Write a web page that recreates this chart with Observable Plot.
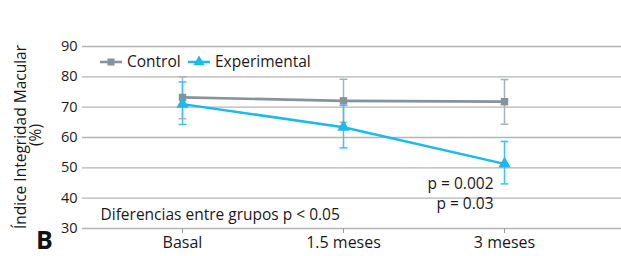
<!DOCTYPE html>
<html><head><meta charset="utf-8">
<script src="https://cdn.jsdelivr.net/npm/d3@7"></script>
<script src="https://cdn.jsdelivr.net/npm/@observablehq/plot@0.6"></script>
<style>
body{margin:0;background:#fff;}
#chart{position:relative;width:621px;height:256px;font-family:"Open Sans",sans-serif;}
</style>
</head><body><div id="chart"></div>
<script>
const categories = ["Basal", "1.5 meses", "3 meses"];
const controlMean = [73.2, 72.1, 71.8];
const controlLow  = [66.2, 65.0, 64.4];
const controlHigh = [80.0, 79.2, 79.1];
const expMean = [71.0, 63.4, 51.3];
const expLow  = [64.3, 56.6, 44.7];
const expHigh = [78.3, 70.6, 58.7];
const yTicks = [30, 40, 50, 60, 70, 80, 90];
const seriesNames = ["Control", "Experimental"];
const pLabels = ["p = 0.002", "p = 0.03"];
const pValuesY = [44.8, 38.0];
const noteText = "Diferencias entre grupos p < 0.05";
const noteY = 34.5;

const colors = {Control: "#86939c", Experimental: "#1bb9ec"};
const errColors = {Control: "#a3b3bb", Experimental: "#3cc3ee"};

const rows = [];
categories.forEach((c, i) => {
  rows.push({cat: c, series: "Control", mean: controlMean[i], lo: controlLow[i], hi: controlHigh[i]});
});
categories.forEach((c, i) => {
  rows.push({cat: c, series: "Experimental", mean: expMean[i], lo: expLow[i], hi: expHigh[i]});
});
const ctrl = rows.filter(d => d.series === "Control");
const exp = rows.filter(d => d.series === "Experimental");
const ends = rows.flatMap(d => [{cat: d.cat, series: d.series, v: d.lo}, {cat: d.cat, series: d.series, v: d.hi}]);

const cap = {draw(ctx, size) { const r = Math.sqrt(size / Math.PI); ctx.moveTo(-r, 0); ctx.lineTo(r, 0); }};

const font = "'Open Sans', sans-serif";
const plot = Plot.plot({
  width: 621, height: 256,
  marginLeft: 82, marginRight: 0, marginTop: 46, marginBottom: 28,
  style: {fontFamily: font, fontSize: "14px", color: "#1a1a1a", background: "#fff", overflow: "visible"},
  x: {type: "point", domain: categories, insetLeft: 100, insetRight: 117, padding: 0, label: null},
  y: {domain: [30, 90], ticks: yTicks, label: null},
  marks: [
    Plot.gridY(yTicks, {stroke: "#b5b5b5", strokeOpacity: 1, strokeWidth: 1.4}),
    Plot.axisX({tickSize: 5, stroke: "#9a9a9a", fontSize: 16, tickPadding: 3, fill: "#1a1a1a"}),
    Plot.axisY({ticks: yTicks, tickSize: 0, tickPadding: 5, fontSize: 14.5, fill: "#1a1a1a"}),
    Plot.ruleX(rows, {x: "cat", y1: "lo", y2: "hi", stroke: d => errColors[d.series], strokeWidth: 1.5}),
    Plot.dot(ends, {x: "cat", y: "v", symbol: cap, r: 3.9, stroke: d => errColors[d.series], strokeWidth: 1.5, fill: "none"}),
    Plot.line(ctrl, {x: "cat", y: "mean", stroke: colors.Control, strokeWidth: 2.7}),
    Plot.line(exp, {x: "cat", y: "mean", stroke: colors.Experimental, strokeWidth: 2.5}),
    Plot.dot(ctrl, {x: "cat", y: "mean", symbol: "square", r: 4.2, fill: colors.Control, stroke: "none"}),
    Plot.dot(exp, {x: "cat", y: "mean", symbol: "triangle", r: 4.6, fill: colors.Experimental, stroke: "none"}),
    Plot.text(pLabels, {x: () => categories[2], y: (d, i) => pValuesY[i], text: d => d, textAnchor: "end", dx: -11, fontSize: 15.5, fill: "#1a1a1a"}),
    Plot.text([noteText], {x: () => categories[0], y: () => noteY, text: d => d, textAnchor: "start", dx: -82, fontSize: 15.5, fill: "#1a1a1a"})
  ]
});
const svg = d3.select(plot);
// Legend
const lg = svg.append("g").attr("font-family", font).attr("font-size", 15.5);
const legendItems = [
  {name: seriesNames[0], x: 100, color: colors.Control, sym: d3.symbolSquare, size: 50},
  {name: seriesNames[1], x: 188, color: colors.Experimental, sym: d3.symbolTriangle, size: 55}
];
const ly = 62;
legendItems.forEach(it => {
  lg.append("line").attr("x1", it.x).attr("x2", it.x + 22).attr("y1", ly).attr("y2", ly).attr("stroke", it.color).attr("stroke-width", 2.5);
  lg.append("path").attr("d", d3.symbol(it.sym, it.size)()).attr("transform", `translate(${it.x + 11},${ly})`).attr("fill", it.color);
  lg.append("text").attr("x", it.x + 27).attr("y", ly).attr("dy", "0.35em").attr("text-anchor", "start").attr("fill", "#1a1a1a").text(it.name);
});
// Y title
const yt = svg.append("g").attr("font-family", font).attr("font-size", 15.5).attr("fill", "#1a1a1a");
yt.append("text").attr("text-anchor", "middle").attr("transform", "translate(26,137) rotate(-90)").text("Índice Integridad Macular");
yt.append("text").attr("text-anchor", "middle").attr("transform", "translate(41,135) rotate(-90)").text("(%)");
// Panel letter
svg.append("text").attr("x", 36).attr("y", 249).attr("text-anchor", "start").attr("font-family", font).attr("font-size", 25).attr("font-weight", "bold").attr("fill", "#111").text("B");
document.getElementById("chart").appendChild(plot);
</script>
</body></html>
